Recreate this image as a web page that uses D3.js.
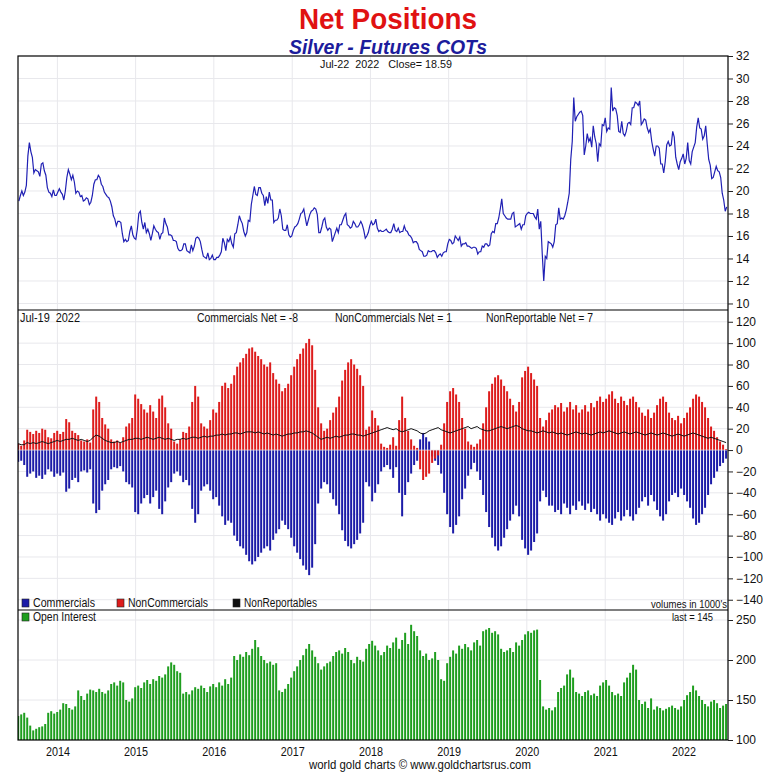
<!DOCTYPE html>
<html>
<head>
<meta charset="utf-8">
<script src="https://cdn.jsdelivr.net/npm/d3@7"></script>
<style>
body { margin: 0; background: #fff; }
svg text { font-family: "Liberation Sans", Arial, sans-serif; fill: #111; white-space: pre; }
.axis text { font-size: 12px; }
</style>
</head>
<body>
<svg id="chart" width="763" height="779"></svg>
<script>
// weekly closes (Fridays) starting here
var priceStart = '2013-07-05';
var price = [
  19.1, 19.6, 20.0, 19.6, 19.9, 20.5, 23.1, 24.3, 23.5, 23.0, 21.6, 21.9, 21.8, 21.7, 21.3, 22.4, 22.5, 21.8, 21.4, 20.3, 19.9, 19.8, 19.5, 20.1, 19.6, 19.6,
  19.9, 20.2, 19.9, 19.7, 19.2, 20.0, 21.2, 21.9, 21.5, 21.0, 21.4, 20.8, 19.8, 20.0, 19.9, 19.5, 19.6, 19.1, 19.2, 19.4, 19.3, 18.8, 19.0, 19.6, 20.6, 21.0, 21.0, 21.4, 21.2, 20.6, 20.4, 19.9, 19.7, 19.5, 19.4, 19.1, 18.6, 17.8, 17.5, 16.9, 17.3, 17.3, 17.2, 16.2, 15.5, 15.7, 15.5, 15.6, 16.4, 16.9, 16.1, 15.8,
  15.7, 16.6, 18.0, 18.2, 17.2, 16.6, 17.2, 16.3, 16.6, 16.2, 15.6, 16.2, 16.9, 16.6, 16.4, 16.3, 15.7, 16.2, 16.3, 17.6, 17.1, 16.8, 16.1, 16.1, 16.0, 15.6, 15.6, 15.5, 14.9, 14.7, 14.7, 14.8, 15.3, 15.3, 14.7, 14.6, 14.5, 15.2, 14.7, 15.1, 15.8, 15.9, 15.8, 15.5, 14.8, 14.2, 14.1, 14.0, 14.5, 13.9, 14.0, 14.3,
  13.9, 13.9, 14.1, 14.1, 14.3, 14.6, 15.8, 15.4, 14.7, 15.7, 15.5, 15.9, 15.3, 15.0, 16.2, 16.3, 17.0, 17.8, 17.4, 17.1, 16.4, 16.0, 16.3, 17.4, 17.3, 18.8, 19.6, 20.4, 19.7, 19.6, 20.3, 20.3, 19.8, 19.6, 18.7, 19.5, 18.9, 19.9, 19.2, 19.2, 17.2, 17.4, 17.4, 17.6, 18.4, 17.8, 16.6, 16.5, 16.5, 17.0, 16.1, 15.9, 16.0,
  16.5, 16.8, 16.9, 17.1, 17.5, 18.0, 18.1, 18.4, 17.6, 16.9, 17.4, 17.9, 18.2, 18.3, 18.5, 18.4, 17.9, 16.3, 16.3, 16.8, 17.4, 17.6, 16.8, 16.5, 16.7, 16.6, 15.5, 15.9, 16.3, 16.7, 16.3, 17.0, 17.0, 17.4, 17.8, 18.0, 17.0, 16.9, 16.7, 16.8, 17.3, 17.1, 16.8, 16.8, 17.0, 17.3, 17.0, 16.5, 15.8, 16.0, 16.3, 16.9,
  17.3, 17.0, 17.1, 17.5, 16.7, 16.4, 16.5, 16.4, 16.4, 16.5, 16.6, 16.4, 16.3, 16.3, 16.6, 17.1, 16.5, 16.4, 16.7, 16.3, 16.4, 16.4, 16.9, 16.5, 16.4, 16.1, 16.0, 15.8, 15.4, 15.5, 15.5, 15.3, 14.8, 14.7, 14.6, 14.2, 14.2, 14.3, 14.7, 14.6, 14.6, 14.7, 14.7, 14.5, 14.1, 14.3, 14.4, 14.2, 14.5, 14.6, 14.6, 15.3,
  15.7, 15.6, 15.3, 15.4, 16.0, 15.8, 15.6, 15.9, 15.1, 15.3, 15.3, 15.4, 15.1, 15.1, 15.0, 14.9, 15.0, 15.0, 14.9, 14.4, 14.6, 14.6, 15.1, 15.0, 15.3, 15.3, 15.1, 15.2, 16.2, 16.4, 16.3, 17.1, 17.1, 17.6, 18.4, 19.3, 18.0, 17.8, 17.6, 17.5, 17.5, 17.5, 18.0, 18.1, 16.8, 16.9, 17.0, 17.1, 16.6, 17.0, 17.0, 17.8,
  18.0, 18.1, 18.0, 18.0, 18.0, 17.7, 17.5, 18.4, 16.6, 17.3, 14.4, 12.0, 14.2, 14.0, 15.5, 15.4, 15.3, 15.0, 15.5, 17.0, 17.1, 18.5, 17.5, 17.6, 17.5, 17.8, 18.3, 19.0, 19.8, 22.8, 24.4, 28.3, 26.2, 26.6, 26.8, 27.0, 27.1, 26.7, 23.2, 24.0, 25.1, 24.4, 24.7, 23.9, 25.8, 24.8, 24.2, 22.6, 24.2, 24.0, 25.9, 25.8,
  26.5, 25.3, 25.6, 25.5, 29.2, 27.1, 27.4, 27.3, 26.7, 25.3, 25.2, 26.2, 25.1, 24.9, 25.3, 26.0, 26.1, 25.9, 27.4, 27.4, 27.9, 27.8, 27.6, 28.0, 25.9, 26.1, 26.4, 26.3, 25.6, 25.2, 25.5, 24.4, 23.7, 23.1, 24.0, 24.0, 23.8, 22.4, 22.4, 21.6, 22.6, 24.1, 24.4, 24.0, 24.1, 25.3, 24.8, 23.0, 22.4, 21.9, 22.6, 22.9, 23.3,
  22.4, 22.9, 24.3, 22.7, 22.4, 23.5, 23.9, 24.3, 25.7, 26.5, 25.6, 25.5, 24.6, 24.9, 25.8, 24.2, 22.8, 22.3, 21.1, 21.2, 21.7, 22.2, 21.8, 21.7, 21.2, 19.8, 19.2, 18.2, 18.59
];

// COT report dates, every second Tuesday starting here (thousands of contracts)
var cotStart = '2013-07-02';
var commercials = [
  -11, -10, -14, -25, -22, -20, -26, -24, -27, -23, -18, -20, -25,
  -22, -24, -21, -39, -36, -28, -26, -30, -20, -19, -21, -18, -50,
  -59, -56, -38, -32, -28, -18, -16, -17, -15, -20, -30, -32, -35,
  -58, -60, -50, -45, -42, -50, -44, -38, -55, -60, -48, -35, -30,
  -22, -20, -24, -30, -28, -33, -55, -68, -60, -38, -34, -32, -38,
  -46, -44, -52, -62, -70, -66, -68, -80, -85, -90, -92, -98, -104,
  -107, -104, -100, -96, -92, -90, -94, -84, -78, -74, -66, -70, -74,
  -82, -90, -96, -102, -108, -112, -117, -110, -88, -50, -36, -30, -32,
  -40, -46, -52, -60, -75, -85, -90, -92, -88, -84, -78, -68, -30,
  -34, -48, -40, -32, -20, -16, -14, -18, -26, -16, -40, -62, -42,
  -30, -22, -14, -10, 10, 16, 12, 8, -6, -10, -14, -22, -40,
  -60, -72, -78, -70, -62, -46, -36, -24, -18, -12, -20, -28, -42,
  -58, -72, -82, -90, -94, -90, -82, -74, -66, -60, -52, -62, -84,
  -92, -98, -94, -86, -78, -48, -38, -44, -52, -52, -58, -56, -60,
  -50, -54, -60, -52, -56, -48, -52, -56, -50, -58, -55, -60, -66,
  -60, -64, -68, -70, -64, -58, -66, -62, -56, -62, -66, -60, -54,
  -48, -44, -52, -42, -48, -56, -62, -66, -60, -48, -42, -40, -44,
  -36, -42, -48, -54, -64, -70, -68, -60, -54, -42, -32, -26, -20,
  -15, -12, -8
];
var nonCommercials = [
  6, 4, 9, 19, 17, 15, 18, 16, 20, 19, 12, 11, 16,
  18, 15, 17, 29, 26, 18, 16, 14, 9, 8, 10, 7, 38,
  50, 45, 30, 24, 20, 10, 8, 9, 7, 12, 22, 25, 30,
  52, 48, 43, 38, 35, 42, 36, 30, 48, 51, 40, 25, 20,
  8, 6, 10, 17, 16, 22, 45, 60, 50, 25, 22, 20, 28,
  38, 35, 45, 60, 63, 58, 62, 70, 78, 82, 86, 90, 95,
  96, 92, 88, 85, 80, 78, 82, 72, 66, 62, 55, 58, 62,
  70, 78, 85, 90, 95, 100, 104, 98, 75, 40, 25, 18, 20,
  28, 35, 40, 50, 65, 75, 82, 85, 80, 76, 70, 60, 19,
  22, 37, 30, 23, 6, 3, 2, 5, 12, 4, 28, 50, 30,
  18, 10, 4, 2, -18, -28, -25, -22, -12, -8, -5, 5, 25,
  45, 55, 58, 52, 45, 30, 20, 8, 5, 3, 6, 10, 25,
  40, 55, 62, 68, 70, 66, 60, 55, 48, 42, 36, 45, 68,
  74, 78, 72, 66, 60, 30, 22, 28, 35, 38, 42, 40, 44,
  36, 40, 45, 38, 42, 35, 38, 42, 36, 44, 40, 46, 50,
  45, 48, 52, 55, 48, 44, 50, 46, 42, 48, 50, 45, 40,
  35, 32, 38, 30, 35, 42, 48, 50, 45, 35, 30, 28, 32,
  25, 30, 35, 40, 48, 52, 50, 45, 40, 30, 22, 18, 12,
  8, 5, 1
];
var nonReportables = [
  6, 5, 5, 7, 6, 7, 6, 7, 8, 7, 6, 7, 8,
  9, 8, 9, 10, 10, 11, 10, 9, 10, 9, 8, 9, 12,
  14, 13, 11, 9, 8, 7, 7, 8, 7, 8, 9, 10, 10,
  11, 11, 10, 11, 12, 11, 10, 11, 12, 11, 10, 11, 10,
  9, 10, 10, 11, 10, 11, 12, 12, 11, 12, 13, 12, 13,
  13, 14, 14, 15, 14, 15, 15, 16, 16, 15, 16, 17, 17,
  17, 16, 17, 16, 15, 16, 15, 14, 15, 14, 13, 14, 15,
  15, 16, 16, 17, 17, 18, 17, 16, 14, 12, 10, 11, 12,
  11, 12, 13, 12, 13, 14, 14, 15, 15, 14, 14, 13, 14,
  15, 16, 17, 18, 19, 20, 21, 20, 19, 20, 18, 17, 18,
  19, 20, 19, 18, 16, 15, 16, 18, 19, 20, 21, 19, 18,
  17, 16, 17, 18, 19, 20, 21, 22, 20, 21, 22, 20, 19,
  18, 18, 19, 20, 21, 22, 21, 20, 21, 22, 23, 22, 20,
  19, 18, 18, 17, 16, 17, 18, 17, 16, 17, 16, 15, 16,
  15, 14, 15, 16, 17, 16, 15, 16, 15, 14, 15, 16, 17,
  16, 17, 18, 17, 16, 15, 16, 17, 16, 15, 16, 17, 16,
  15, 14, 15, 16, 15, 14, 15, 16, 15, 14, 13, 14, 15,
  14, 13, 14, 15, 16, 15, 14, 13, 12, 11, 12, 11, 10,
  9, 8, 7
];
var openInterest = [
  130, 132, 134, 128, 118, 112, 114, 116, 117, 120, 134, 136, 133,
  135, 138, 146, 145, 140, 138, 142, 162, 155, 150, 158, 163, 162,
  160, 164, 160, 158, 162, 170, 172, 168, 174, 172, 150, 148, 152,
  166, 168, 165, 172, 175, 170, 176, 174, 180, 178, 182, 192, 197,
  194, 186, 184, 158, 160, 157, 162, 166, 164, 168, 165, 160, 167,
  170, 166, 172, 168, 176, 170, 178, 205, 200, 207, 204, 210, 206,
  214, 225, 216, 205, 200, 196, 198, 194, 196, 162, 160, 164, 170,
  178, 186, 192, 200, 206, 214, 220, 212, 204, 196, 188, 192, 196,
  198, 205, 210, 212, 208, 215, 210, 200, 196, 204, 200, 198, 214,
  220, 224, 218, 212, 206, 210, 218, 215, 222, 228, 214, 225, 234,
  220, 244, 236, 230, 212, 205, 208, 200, 202, 210, 200, 176, 174,
  196, 204, 212, 208, 218, 214, 220, 216, 212, 222, 225, 218, 236,
  238, 240, 234, 236, 232, 214, 210, 212, 215, 210, 222, 218, 225,
  232, 236, 234, 237, 238, 175, 142, 138, 140, 137, 141, 160, 165,
  168, 182, 188, 178, 160, 158, 155, 160, 162, 156, 158, 155, 168,
  172, 175, 168, 160, 156, 158, 155, 172, 178, 184, 194, 188, 150,
  145, 148, 140, 152, 138, 142, 140, 137, 139, 141, 143, 140, 138,
  142, 150, 156, 160, 168, 162, 155, 150, 145, 142, 148, 150, 146,
  140, 143, 145
];

var years = [2014, 2015, 2016, 2017, 2018, 2019, 2020, 2021, 2022];
var priceTicks = [10, 12, 14, 16, 18, 20, 22, 24, 26, 28, 30, 32];
var netTicks = [-140, -120, -100, -80, -60, -40, -20, 0, 20, 40, 60, 80, 100, 120];
var oiTicks = [100, 150, 200, 250];

var svg = d3.select('#chart');
var left = 18, right = 728;
var pTop = 56, pBot = 310, nBot = 610, oBot = 740;

var parseDay = d3.timeParse('%Y-%m-%d');
var priceDates = price.map(function(v, i) { return d3.timeDay.offset(parseDay(priceStart), 7 * i); });
var cotDates = commercials.map(function(v, i) { return d3.timeDay.offset(parseDay(cotStart), 14 * i); });
var yearDates = years.map(function(y) { return new Date(y, 0, 1); });

var x = d3.scaleTime().domain([new Date(2013, 6, 1), new Date(2022, 6, 28)]).range([left, right]);
var yPrice = d3.scaleLinear().domain([9.42, 32]).range([pBot, pTop]);
var yNet = d3.scaleLinear().domain([-149.6, 131]).range([nBot, pBot]);
var yOi = d3.scaleLinear().domain([100, 262.5]).range([oBot, nBot]);

// the originals use a narrow face, so squeeze text to its measured width
function label(txt, xx, yy, size, width, anchor) {
  var t = svg.append('text').attr('x', xx).attr('y', yy)
    .attr('text-anchor', anchor || 'start')
    .style('font-size', size + 'px').text(txt);
  if (width) t.attr('textLength', width).attr('lengthAdjust', 'spacingAndGlyphs');
  return t;
}

// clip rects
var defs = svg.append('defs');
[['clipP', pTop, pBot], ['clipN', pBot, nBot], ['clipO', nBot, oBot]].forEach(function(c) {
  defs.append('clipPath').attr('id', c[0]).append('rect')
    .attr('x', left).attr('y', c[1]).attr('width', right - left).attr('height', c[2] - c[1]);
});

// grid
function grid(yScale, ticks, top, bot) {
  var g = svg.append('g').attr('class', 'grid');
  g.selectAll('line.h').data(ticks.filter(function(t) { var p = yScale(t); return p > top + 1 && p < bot - 1; }))
    .enter().append('line')
    .attr('x1', left).attr('x2', right)
    .attr('y1', function(d) { return yScale(d); }).attr('y2', function(d) { return yScale(d); })
    .attr('stroke', '#e8e8ec').attr('stroke-width', 1);
  g.selectAll('line.v').data(yearDates).enter().append('line')
    .attr('x1', function(d) { return x(d); }).attr('x2', function(d) { return x(d); })
    .attr('y1', top).attr('y2', bot)
    .attr('stroke', '#e8e8ec').attr('stroke-width', 1);
}
grid(yPrice, priceTicks, pTop, pBot);
grid(yNet, netTicks, pBot, nBot);
grid(yOi, oiTicks, nBot, oBot);

// price line
svg.append('path')
  .datum(price)
  .attr('clip-path', 'url(#clipP)')
  .attr('fill', 'none')
  .attr('stroke', '#2020b4')
  .attr('stroke-width', 1.2)
  .attr('d', d3.line()
    .x(function(d, i) { return x(priceDates[i]); })
    .y(function(d) { return yPrice(d); }));

// net position bars
var bw = 2;
var gNet = svg.append('g').attr('clip-path', 'url(#clipN)');
gNet.selectAll('rect.comm').data(commercials).enter().append('rect')
  .attr('x', function(d, i) { return x(cotDates[i]) - bw / 2; })
  .attr('y', function(d) { return Math.min(yNet(0), yNet(d)); })
  .attr('width', bw)
  .attr('height', function(d) { return Math.abs(yNet(d) - yNet(0)); })
  .attr('fill', '#1c1ca8');
gNet.selectAll('rect.nonc').data(nonCommercials).enter().append('rect')
  .attr('x', function(d, i) { return x(cotDates[i]) - bw / 2; })
  .attr('y', function(d) { return Math.min(yNet(0), yNet(d)); })
  .attr('width', bw)
  .attr('height', function(d) { return Math.abs(yNet(d) - yNet(0)); })
  .attr('fill', '#dd1c1c');
gNet.append('line')
  .attr('x1', left).attr('x2', right).attr('y1', yNet(0)).attr('y2', yNet(0))
  .attr('stroke', '#ffffff').attr('stroke-width', 1).attr('opacity', 0.6);
gNet.append('path')
  .datum(nonReportables)
  .attr('fill', 'none')
  .attr('stroke', '#111')
  .attr('stroke-width', 1)
  .attr('d', d3.line()
    .x(function(d, i) { return x(cotDates[i]); })
    .y(function(d) { return yNet(d); }));

// open interest bars
svg.append('g').attr('clip-path', 'url(#clipO)')
  .selectAll('rect').data(openInterest).enter().append('rect')
  .attr('x', function(d, i) { return x(cotDates[i]) - bw / 2; })
  .attr('y', function(d) { return yOi(d); })
  .attr('width', bw)
  .attr('height', function(d) { return yOi(100) - yOi(d); })
  .attr('fill', '#1f9e1f');

// frames
svg.append('rect').attr('x', left).attr('y', pTop).attr('width', right - left).attr('height', oBot - pTop)
  .attr('fill', 'none').attr('stroke', '#000').attr('stroke-width', 1.2);
[pBot, nBot].forEach(function(yy) {
  svg.append('line').attr('x1', left).attr('x2', right).attr('y1', yy).attr('y2', yy)
    .attr('stroke', '#000').attr('stroke-width', 1.2);
});

// right axes
function rightAxis(yScale, ticks) {
  var g = svg.append('g').attr('class', 'axis').attr('transform', 'translate(' + right + ',0)')
    .call(d3.axisRight(yScale).tickValues(ticks).tickSize(5).tickSizeOuter(0).tickPadding(3));
  g.select('.domain').remove();
  g.selectAll('line').attr('stroke', '#222');
  g.selectAll('text').attr('fill', '#111');
}
rightAxis(yPrice, priceTicks);
rightAxis(yNet, netTicks);
rightAxis(yOi, oiTicks);

// year labels
var gx = svg.append('g').attr('transform', 'translate(0,' + oBot + ')')
  .call(d3.axisBottom(x).tickValues(yearDates).tickFormat(d3.timeFormat('%Y')).tickSize(0).tickPadding(7));
gx.select('.domain').remove();
gx.selectAll('text').style('font-size', '12px').attr('fill', '#111')
  .attr('textLength', 24).attr('lengthAdjust', 'spacingAndGlyphs');

// titles
label('Net Positions', 388, 29, 29, 178, 'middle')
  .style('font-weight', 'bold').style('fill', '#e01212');
label('Silver - Futures COTs', 388, 54, 21, 198, 'middle')
  .style('font-weight', 'bold').style('font-style', 'italic').style('fill', '#1c1c9c');
label('Jul-22  2022   Close= 18.59', 386, 68, 11, 132, 'middle');

// net panel header
label('Jul-19  2022', 20, 322, 12, 60);
label('Commercials Net = -8', 197, 322, 12, 101);
label('NonCommercials Net = 1', 335, 322, 12, 117);
label('NonReportable Net = 7', 486, 322, 12, 107);

// legends
var legendNames = ['Commercials', 'NonCommercials', 'NonReportables', 'Open Interest'];
var legendColors = ['#1c1ca8', '#dd1c1c', '#111', '#1f9e1f'];
var legendSpots = [[22, 607, 62], [117, 607, 80], [233, 607, 73], [22, 621, 63]];
legendNames.forEach(function(name, i) {
  var s = legendSpots[i];
  svg.append('rect').attr('x', s[0]).attr('y', s[1] - 8).attr('width', 7).attr('height', 8)
    .attr('fill', legendColors[i]).attr('stroke', '#222').attr('stroke-width', 0.6);
  label(name, s[0] + 11, s[1], 12, s[2]);
});
label("volumes in 1000's", 727, 608, 11, 76, 'end');
label('last = 145', 713, 621, 11, 41, 'end');

// footer
label('world gold charts \u00a9 www.goldchartsrus.com', 420, 769, 12, 222, 'middle');
</script>
</body>
</html>
